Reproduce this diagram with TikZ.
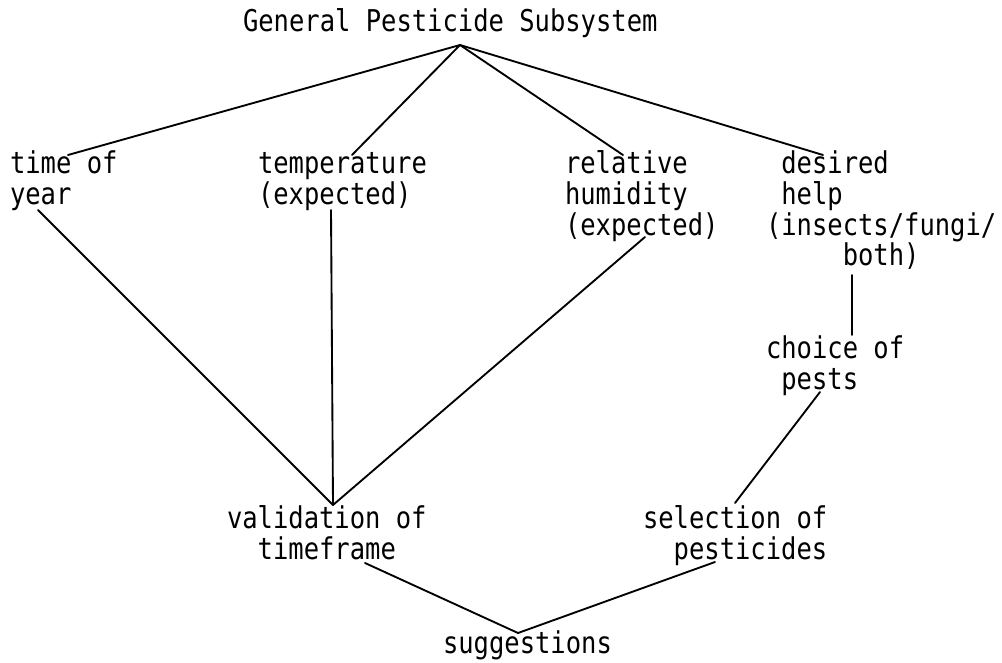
\documentclass[tikz,border=0pt]{standalone}
\usepackage{fontspec}
\usetikzlibrary{calc}
\newfontfamily\typewriter[FakeStretch=0.85]{DejaVu Sans Mono}
% stacked lines; the node baseline is the baseline of the first line
\newcommand\rows[1]{\vtop{\halign{##\hfil\cr#1\crcr}}}
\tikzset{
  label/.style={anchor=base west, inner sep=0pt, outer sep=0pt,
    font=\typewriter\fontsize{22.5pt}{23.25pt}\selectfont},
  link/.style={line width=1.4pt, line cap=round}
}
\begin{document}
\begin{tikzpicture}[x=0.75pt, y=-0.75pt]
  \useasboundingbox (0,0) rectangle (1002,663);

  \node[label] (root) at (243,32) {General Pesticide Subsystem};
  \node[label] (time) at (10,173) {\rows{time of\cr year}};
  \node[label] (temp) at (258,173) {\rows{temperature\cr (expected)}};
  \node[label] (hum)  at (565,173) {\rows{relative\cr humidity\cr (expected)}};
  \node[label] (help) at (766,173) {\rows{\phantom{(}desired\cr \phantom{(}help\cr (insects/fungi/\cr \phantom{(inse}both)}};
  \node[label] (pests) at (766,358) {\rows{choice of\cr \phantom{(}pests}};
  \node[label] (valid) at (227,528) {\rows{validation of\cr \phantom{va}timeframe}};
  \node[label] (select) at (643,528) {\rows{selection of\cr \phantom{s}\phantom{e}pesticides}};
  \node[label] (sugg) at (443,653) {suggestions};

  % junction points
  \coordinate (top) at ($(root.base west)+(217,13)$);
  \coordinate (vjoin) at ($(valid.base west)+(106,-23)$);
  \coordinate (sjoin) at ($(sugg.base west)+(75,-20)$);

  % subsystem to its inputs
  \draw[link] (top) -- ($(time.base west)+(58,-18)$);
  \draw[link] (top) -- ($(temp.base west)+(94,-18)$);
  \draw[link] (top) -- ($(hum.base west)+(58,-18)$);
  \draw[link] (top) -- ($(help.base west)+(57,-18)$);

  % inputs to the timeframe check
  \draw[link] ($(time.base west)+(28,37)$) -- (vjoin);
  \draw[link] ($(temp.base west)+(73,37)$) -- (vjoin);
  \draw[link] ($(hum.base west)+(80,64)$) -- (vjoin);

  % pest branch
  \draw[link] ($(help.base west)+(86,102)$) -- ($(pests.base west)+(86,-23)$);
  \draw[link] ($(pests.base west)+(54,34)$) -- ($(select.base west)+(92,-25)$);

  % results
  \draw[link] ($(valid.base west)+(138,35)$) -- (sjoin);
  \draw[link] ($(select.base west)+(72,34)$) -- (sjoin);
\end{tikzpicture}
\end{document}
